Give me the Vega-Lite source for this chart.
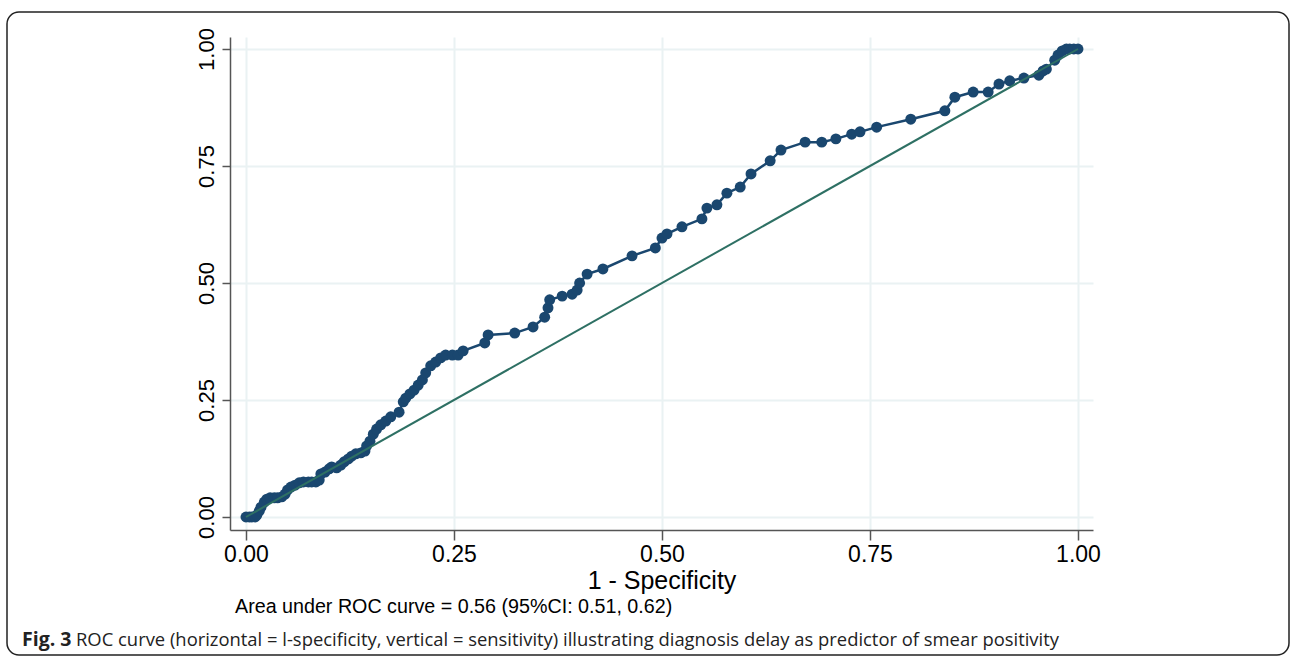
{
  "$schema": "https://vega.github.io/schema/vega-lite/v6.json",
  "width": 1282,
  "height": 643,
  "autosize": {"type": "none"},
  "padding": {"left": 7, "top": 12, "right": 3, "bottom": 5},
  "background": "white",
  "config": {
    "view": {"stroke": "#222222", "strokeWidth": 1.5, "cornerRadius": 12, "fill": "white"}
  },
  "resolve": {"axis": {"x": "independent", "y": "independent"}},
  "datasets": {
    "roc": [
      {"fpr": 0.000, "tpr": 0.000}, {"fpr": 0.004, "tpr": 0.000}, {"fpr": 0.007, "tpr": 0.000}, {"fpr": 0.011, "tpr": 0.000},
      {"fpr": 0.013, "tpr": 0.004}, {"fpr": 0.016, "tpr": 0.013}, {"fpr": 0.018, "tpr": 0.021}, {"fpr": 0.022, "tpr": 0.032},
      {"fpr": 0.025, "tpr": 0.038}, {"fpr": 0.029, "tpr": 0.041}, {"fpr": 0.034, "tpr": 0.041}, {"fpr": 0.038, "tpr": 0.041},
      {"fpr": 0.043, "tpr": 0.043}, {"fpr": 0.047, "tpr": 0.049}, {"fpr": 0.050, "tpr": 0.058}, {"fpr": 0.054, "tpr": 0.064},
      {"fpr": 0.059, "tpr": 0.068}, {"fpr": 0.064, "tpr": 0.073}, {"fpr": 0.069, "tpr": 0.075}, {"fpr": 0.075, "tpr": 0.075},
      {"fpr": 0.079, "tpr": 0.075}, {"fpr": 0.084, "tpr": 0.075}, {"fpr": 0.088, "tpr": 0.079}, {"fpr": 0.090, "tpr": 0.092},
      {"fpr": 0.095, "tpr": 0.096}, {"fpr": 0.100, "tpr": 0.103}, {"fpr": 0.103, "tpr": 0.107}, {"fpr": 0.109, "tpr": 0.105},
      {"fpr": 0.114, "tpr": 0.111}, {"fpr": 0.118, "tpr": 0.118}, {"fpr": 0.123, "tpr": 0.124}, {"fpr": 0.127, "tpr": 0.130},
      {"fpr": 0.132, "tpr": 0.135}, {"fpr": 0.138, "tpr": 0.137}, {"fpr": 0.143, "tpr": 0.141}, {"fpr": 0.145, "tpr": 0.152},
      {"fpr": 0.149, "tpr": 0.162}, {"fpr": 0.153, "tpr": 0.177}, {"fpr": 0.157, "tpr": 0.188}, {"fpr": 0.162, "tpr": 0.197},
      {"fpr": 0.168, "tpr": 0.205}, {"fpr": 0.174, "tpr": 0.214}, {"fpr": 0.184, "tpr": 0.224}, {"fpr": 0.189, "tpr": 0.246},
      {"fpr": 0.192, "tpr": 0.254}, {"fpr": 0.197, "tpr": 0.263}, {"fpr": 0.202, "tpr": 0.271}, {"fpr": 0.207, "tpr": 0.282},
      {"fpr": 0.212, "tpr": 0.293}, {"fpr": 0.216, "tpr": 0.308}, {"fpr": 0.222, "tpr": 0.323}, {"fpr": 0.228, "tpr": 0.331},
      {"fpr": 0.234, "tpr": 0.340}, {"fpr": 0.240, "tpr": 0.346}, {"fpr": 0.248, "tpr": 0.346}, {"fpr": 0.255, "tpr": 0.346},
      {"fpr": 0.261, "tpr": 0.355}, {"fpr": 0.287, "tpr": 0.372}, {"fpr": 0.291, "tpr": 0.389}, {"fpr": 0.323, "tpr": 0.393},
      {"fpr": 0.345, "tpr": 0.406}, {"fpr": 0.359, "tpr": 0.427}, {"fpr": 0.363, "tpr": 0.447}, {"fpr": 0.365, "tpr": 0.464},
      {"fpr": 0.380, "tpr": 0.472}, {"fpr": 0.392, "tpr": 0.476}, {"fpr": 0.398, "tpr": 0.485}, {"fpr": 0.401, "tpr": 0.500},
      {"fpr": 0.410, "tpr": 0.519}, {"fpr": 0.429, "tpr": 0.530}, {"fpr": 0.464, "tpr": 0.558}, {"fpr": 0.492, "tpr": 0.575},
      {"fpr": 0.500, "tpr": 0.596}, {"fpr": 0.506, "tpr": 0.605}, {"fpr": 0.524, "tpr": 0.620}, {"fpr": 0.548, "tpr": 0.637},
      {"fpr": 0.554, "tpr": 0.660}, {"fpr": 0.566, "tpr": 0.667}, {"fpr": 0.578, "tpr": 0.692}, {"fpr": 0.594, "tpr": 0.705},
      {"fpr": 0.607, "tpr": 0.733}, {"fpr": 0.630, "tpr": 0.761}, {"fpr": 0.643, "tpr": 0.784}, {"fpr": 0.672, "tpr": 0.801},
      {"fpr": 0.692, "tpr": 0.801}, {"fpr": 0.709, "tpr": 0.808}, {"fpr": 0.728, "tpr": 0.818}, {"fpr": 0.738, "tpr": 0.823},
      {"fpr": 0.758, "tpr": 0.833}, {"fpr": 0.799, "tpr": 0.850}, {"fpr": 0.840, "tpr": 0.868}, {"fpr": 0.852, "tpr": 0.897},
      {"fpr": 0.874, "tpr": 0.908}, {"fpr": 0.892, "tpr": 0.908}, {"fpr": 0.905, "tpr": 0.925}, {"fpr": 0.918, "tpr": 0.932},
      {"fpr": 0.935, "tpr": 0.938}, {"fpr": 0.953, "tpr": 0.944}, {"fpr": 0.958, "tpr": 0.953}, {"fpr": 0.962, "tpr": 0.957},
      {"fpr": 0.972, "tpr": 0.976}, {"fpr": 0.976, "tpr": 0.987}, {"fpr": 0.981, "tpr": 0.996}, {"fpr": 0.986, "tpr": 1.000},
      {"fpr": 0.990, "tpr": 1.000}, {"fpr": 0.995, "tpr": 1.000}, {"fpr": 1.000, "tpr": 1.000}
    ],
    "diag": [{"fpr": 0, "tpr": 0}, {"fpr": 1, "tpr": 1}],
    "notes": [
      {"text": "Area under ROC curve = 0.56 (95%CI: 0.51, 0.62)", "fpr": -0.0132, "tpr": -0.2051}
    ],
    "caption": [
      {"text": "Fig. 3", "part": "bold", "fpr": -0.2692, "tpr": -0.2756},
      {"text": "ROC curve (horizontal = l-specificity, vertical = sensitivity) illustrating diagnosis delay as predictor of smear positivity", "part": "rest", "fpr": -0.2043, "tpr": -0.2756}
    ]
  },
  "encoding": {
    "x": {
      "field": "fpr",
      "type": "quantitative",
      "title": null,
      "scale": {"domain": [-0.01923, 1.01803], "range": [223, 1086], "nice": false, "zero": false},
      "axis": null
    },
    "y": {
      "field": "tpr",
      "type": "quantitative",
      "title": null,
      "scale": {"domain": [-0.02778, 1.02564], "range": [518, 25], "nice": false, "zero": false},
      "axis": null
    }
  },
  "layer": [
    {
      "data": {"name": "diag"},
      "mark": {"type": "line", "strokeWidth": 0, "opacity": 0},
      "encoding": {
        "x": {
          "field": "fpr",
          "type": "quantitative",
          "title": null,
          "scale": {"domain": [-0.01923, 1.01803], "range": [223, 1086], "nice": false, "zero": false},
          "axis": {
            "orient": "top",
            "values": [0, 0.25, 0.5, 0.75, 1],
            "grid": true,
            "gridColor": "#eaf2f3",
            "gridWidth": 2,
            "domain": false,
            "ticks": false,
            "labels": false
          }
        },
        "y": {
          "field": "tpr",
          "type": "quantitative",
          "title": null,
          "scale": {"domain": [-0.02778, 1.02564], "range": [518, 25], "nice": false, "zero": false},
          "axis": {
            "orient": "left",
            "values": [0, 0.25, 0.5, 0.75, 1],
            "grid": true,
            "gridColor": "#eaf2f3",
            "gridWidth": 2,
            "domain": false,
            "ticks": false,
            "labels": false
          }
        }
      }
    },
    {
      "data": {"name": "roc"},
      "mark": {"type": "line", "color": "#1a476f", "strokeWidth": 2.5},
      "encoding": {
        "x": {
          "field": "fpr",
          "type": "quantitative",
          "title": "1 - Specificity",
          "scale": {"domain": [-0.01923, 1.01803], "range": [223, 1086], "nice": false, "zero": false},
          "axis": {
            "orient": "bottom",
            "offset": -125,
            "values": [0, 0.25, 0.5, 0.75, 1],
            "format": ".2f",
            "grid": false,
            "domainColor": "#555555",
            "domainWidth": 1.5,
            "tickColor": "#555555",
            "tickWidth": 1.5,
            "tickSize": 10,
            "labelFont": "Liberation Sans",
            "labelFontSize": 23,
            "labelColor": "#000000",
            "labelPadding": 3,
            "labelFlush": false,
            "labelOverlap": false,
            "titleFont": "Liberation Sans",
            "titleFontSize": 25,
            "titleFontWeight": "normal",
            "titleColor": "#000000",
            "titlePadding": 2
          }
        },
        "y": {
          "field": "tpr",
          "type": "quantitative",
          "title": null,
          "scale": {"domain": [-0.02778, 1.02564], "range": [518, 25], "nice": false, "zero": false},
          "axis": {
            "orient": "left",
            "offset": -223,
            "values": [0, 0.25, 0.5, 0.75, 1],
            "format": ".2f",
            "grid": false,
            "domainColor": "#555555",
            "domainWidth": 1.5,
            "tickColor": "#555555",
            "tickWidth": 1.5,
            "tickSize": 8,
            "labelFont": "Liberation Sans",
            "labelFontSize": 22,
            "labelColor": "#000000",
            "labelAngle": -90,
            "labelAlign": "center",
            "labelBaseline": "bottom",
            "labelPadding": 4,
            "labelFlush": false,
            "labelOverlap": false
          }
        }
      }
    },
    {
      "data": {"name": "roc"},
      "mark": {"type": "point", "filled": true, "color": "#1a476f", "size": 120, "opacity": 1}
    },
    {
      "data": {"name": "diag"},
      "mark": {"type": "line", "color": "#2e7064", "strokeWidth": 2}
    },
    {
      "data": {"name": "notes"},
      "mark": {"type": "text", "align": "left", "baseline": "alphabetic", "font": "Liberation Sans", "fontSize": 19.7, "color": "#000000"},
      "encoding": {"text": {"field": "text"}}
    },
    {
      "data": {"name": "caption"},
      "transform": [{"filter": "datum.part === 'bold'"}],
      "mark": {"type": "text", "align": "left", "baseline": "alphabetic", "font": "Open Sans", "fontSize": 19.5, "fontWeight": "bold", "color": "#222222"},
      "encoding": {"text": {"field": "text"}}
    },
    {
      "data": {"name": "caption"},
      "transform": [{"filter": "datum.part === 'rest'"}],
      "mark": {"type": "text", "align": "left", "baseline": "alphabetic", "font": "Open Sans", "fontSize": 18.4, "color": "#222222"},
      "encoding": {"text": {"field": "text"}}
    }
  ]
}
